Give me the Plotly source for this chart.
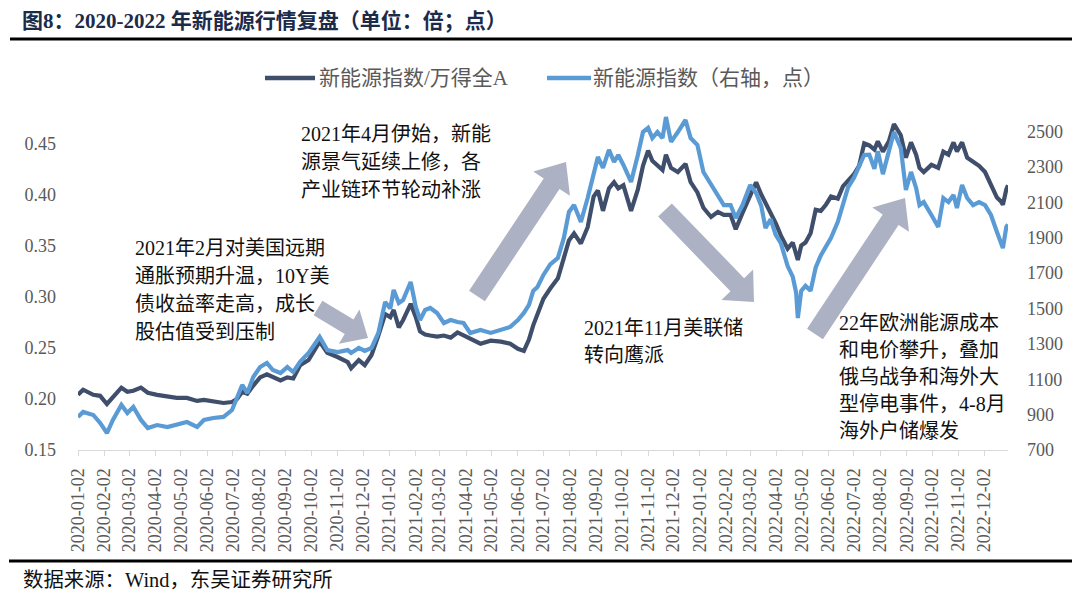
import math
import plotly.graph_objects as go

# ---------------- data ----------------
dates = [
    "2020-01-02", "2020-01-08", "2020-01-20", "2020-01-28", "2020-02-05", "2020-02-12", "2020-02-22", "2020-02-29",
    "2020-03-07", "2020-03-16", "2020-03-24", "2020-04-04", "2020-04-16", "2020-04-27", "2020-05-09", "2020-05-21",
    "2020-05-29", "2020-06-09", "2020-06-21", "2020-07-01", "2020-07-07", "2020-07-13", "2020-07-19", "2020-07-26",
    "2020-08-03", "2020-08-11", "2020-08-18", "2020-08-27", "2020-09-04", "2020-09-11", "2020-09-19", "2020-09-29",
    "2020-10-12", "2020-10-21", "2020-11-02", "2020-11-14", "2020-11-18", "2020-11-27", "2020-12-04", "2020-12-12",
    "2020-12-20", "2020-12-28", "2021-01-03", "2021-01-07", "2021-01-13", "2021-01-18", "2021-01-27", "2021-02-02",
    "2021-02-07", "2021-02-13", "2021-02-19", "2021-02-27", "2021-03-07", "2021-03-15", "2021-03-23", "2021-03-30",
    "2021-04-07", "2021-04-19", "2021-05-01", "2021-05-13", "2021-05-24", "2021-06-02", "2021-06-09", "2021-06-15",
    "2021-06-20", "2021-06-25", "2021-07-02", "2021-07-10", "2021-07-19", "2021-07-26", "2021-08-01", "2021-08-07",
    "2021-08-15", "2021-08-23", "2021-08-30", "2021-09-04", "2021-09-10", "2021-09-17", "2021-09-23", "2021-09-28",
    "2021-10-04", "2021-10-13", "2021-10-21", "2021-10-27", "2021-11-02", "2021-11-07", "2021-11-13", "2021-11-19",
    "2021-11-23", "2021-11-29", "2021-12-07", "2021-12-16", "2021-12-22", "2021-12-30", "2022-01-06", "2022-01-15",
    "2022-01-23", "2022-01-30", "2022-02-07", "2022-02-13", "2022-02-21", "2022-03-02", "2022-03-09", "2022-03-15",
    "2022-03-20", "2022-03-26", "2022-04-01", "2022-04-07", "2022-04-15", "2022-04-21", "2022-04-25", "2022-04-27",
    "2022-05-01", "2022-05-06", "2022-05-12", "2022-05-18", "2022-05-24", "2022-05-30", "2022-06-05", "2022-06-13",
    "2022-06-19", "2022-06-25", "2022-07-02", "2022-07-08", "2022-07-14", "2022-07-20", "2022-07-26", "2022-07-30",
    "2022-08-05", "2022-08-12", "2022-08-18", "2022-08-26", "2022-09-01", "2022-09-07", "2022-09-13", "2022-09-17",
    "2022-09-22", "2022-10-01", "2022-10-09", "2022-10-15", "2022-10-21", "2022-10-27", "2022-10-31", "2022-11-06",
    "2022-11-12", "2022-11-19", "2022-11-26", "2022-12-03", "2022-12-10", "2022-12-17", "2022-12-22", "2022-12-24",
    "2022-12-28", "2022-12-30",
]

# 新能源指数/万得全A (left axis, 倍)
ratio_vs_wind_a = [
    0.204, 0.209, 0.204, 0.203, 0.195, 0.202, 0.211, 0.207,
    0.208, 0.211, 0.206, 0.204, 0.202, 0.201, 0.201, 0.198,
    0.199, 0.198, 0.196, 0.197, 0.200, 0.207, 0.205, 0.213,
    0.221, 0.224, 0.221, 0.218, 0.221, 0.220, 0.233, 0.238,
    0.256, 0.245, 0.241, 0.236, 0.230, 0.238, 0.233, 0.243,
    0.262, 0.283, 0.280, 0.287, 0.270, 0.277, 0.293, 0.280,
    0.266, 0.263, 0.262, 0.261, 0.262, 0.260, 0.265, 0.262,
    0.258, 0.254, 0.257, 0.256, 0.254, 0.249, 0.247, 0.258,
    0.272, 0.283, 0.298, 0.308, 0.318, 0.338, 0.355, 0.362,
    0.352, 0.368, 0.398, 0.404, 0.384, 0.406, 0.412, 0.406,
    0.409, 0.384, 0.405, 0.428, 0.443, 0.433, 0.428, 0.424,
    0.439, 0.426, 0.422, 0.430, 0.412, 0.402, 0.387, 0.378,
    0.383, 0.380, 0.380, 0.366, 0.382, 0.399, 0.412, 0.400,
    0.392, 0.383, 0.372, 0.360, 0.347, 0.353, 0.340, 0.336,
    0.350, 0.353, 0.362, 0.385, 0.384, 0.390, 0.398, 0.396,
    0.408, 0.414, 0.420, 0.428, 0.450, 0.448, 0.444, 0.452,
    0.442, 0.452, 0.469, 0.458, 0.436, 0.451, 0.439, 0.426,
    0.422, 0.429, 0.426, 0.442, 0.439, 0.451, 0.442, 0.451,
    0.436, 0.432, 0.428, 0.422, 0.409, 0.397, 0.393, 0.390,
    0.405, 0.409,
]

# 新能源指数 (right axis, 点)
new_energy_index = [
    887, 915, 898, 853, 796, 870, 955, 909,
    943, 870, 824, 841, 830, 841, 858, 830,
    870, 881, 887, 926, 1000, 1068, 1022, 1113,
    1169, 1192, 1152, 1135, 1169, 1141, 1198, 1249,
    1339, 1265, 1254, 1265, 1249, 1277, 1260, 1277,
    1362, 1537, 1500, 1605, 1531, 1548, 1650, 1509,
    1435, 1492, 1503, 1475, 1418, 1435, 1424, 1418,
    1362, 1379, 1362, 1379, 1396, 1435, 1475, 1520,
    1600, 1622, 1690, 1750, 1786, 1899, 2046, 2085,
    1989, 2125, 2272, 2357, 2295, 2397, 2329, 2368,
    2312, 2216, 2368, 2498, 2521, 2464, 2498, 2464,
    2583, 2442, 2498, 2566, 2464, 2425, 2272, 2199,
    2142, 2085, 2085, 2012, 2085, 2199, 2153, 2080,
    1955, 2005, 1916, 1870, 1740, 1680, 1590, 1446,
    1600, 1628, 1600, 1732, 1800, 1850, 1900, 1990,
    2080, 2185, 2240, 2305, 2368, 2370, 2290, 2390,
    2260, 2390, 2498, 2408, 2170, 2272, 2182, 2085,
    2102, 2029, 1961, 2125, 2102, 2142, 2068, 2199,
    2125, 2085, 2102, 2085, 2029, 1933, 1859, 1842,
    1961, 1975,
]

left_ticks = [0.15, 0.20, 0.25, 0.30, 0.35, 0.40, 0.45]
left_tick_labels = ["0.15", "0.20", "0.25", "0.30", "0.35", "0.40", "0.45"]
right_ticks = [700, 900, 1100, 1300, 1500, 1700, 1900, 2100, 2300, 2500]
month_ticks = [
    "2020-01-02", "2020-02-02", "2020-03-02", "2020-04-02", "2020-05-02", "2020-06-02",
    "2020-07-02", "2020-08-02", "2020-09-02", "2020-10-02", "2020-11-02", "2020-12-02",
    "2021-01-02", "2021-02-02", "2021-03-02", "2021-04-02", "2021-05-02", "2021-06-02",
    "2021-07-02", "2021-08-02", "2021-09-02", "2021-10-02", "2021-11-02", "2021-12-02",
    "2022-01-02", "2022-02-02", "2022-03-02", "2022-04-02", "2022-05-02", "2022-06-02",
    "2022-07-02", "2022-08-02", "2022-09-02", "2022-10-02", "2022-11-02", "2022-12-02",
]

series_names = ["新能源指数/万得全A", "新能源指数（右轴，点）"]
title_text = "图8：2020-2022 年新能源行情复盘（单位：倍；点）"
source_text = "数据来源：Wind，东吴证券研究所"
notes = [
    ["2021年4月伊始，新能", "源景气延续上修，各", "产业链环节轮动补涨"],
    ["2021年2月对美国远期", "通胀预期升温，10Y美", "债收益率走高，成长", "股估值受到压制"],
    ["2021年11月美联储", "转向鹰派"],
    ["22年欧洲能源成本", "和电价攀升，叠加", "俄乌战争和海外大", "型停电事件，4-8月", "海外户储爆发"],
]

# ---------------- styling / layout ----------------
OFF = 8                     # the page body keeps an 8px margin around the figure
W, H = 1080 - OFF, 599 - OFF
PL, PR, PT, PB = 78, 1008, 105, 450   # plot area in window pixels
DARK = "#3f4e6a"
BLUE = "#5b9bd5"
ARROW = "#acb2c3"
GRAY = "#595959"
SERIF = "Liberation Serif, Noto Sans CJK SC, serif"


def px(x):
    return (x - PL) / (PR - PL)


def py(y):
    return (PB - y) / (PB - PT)


def arrow_path(x0, y0, x1, y1, w, hw, hl):
    dx, dy = x1 - x0, y1 - y0
    n = math.hypot(dx, dy)
    ux, uy = dx / n, dy / n
    nx, ny = -uy, ux
    bx, by = x1 - ux * hl, y1 - uy * hl
    pts = [
        (x0 + nx * w / 2, y0 + ny * w / 2),
        (bx + nx * w / 2, by + ny * w / 2),
        (bx + nx * hw / 2, by + ny * hw / 2),
        (x1, y1),
        (bx - nx * hw / 2, by - ny * hw / 2),
        (bx - nx * w / 2, by - ny * w / 2),
        (x0 - nx * w / 2, y0 - ny * w / 2),
    ]
    return "M " + " L ".join(f"{px(a):.5f},{py(b):.5f}" for a, b in pts) + " Z"


fig = go.Figure()
fig.add_trace(go.Scatter(x=dates, y=ratio_vs_wind_a, name=series_names[0], mode="lines",
                         line=dict(color=DARK, width=4.2), yaxis="y"))
fig.add_trace(go.Scatter(x=dates, y=new_energy_index, name=series_names[1], mode="lines",
                         line=dict(color=BLUE, width=4.2), yaxis="y2"))

left_top = 0.15 + 0.05 * (PB - PT) / 51.1
right_top = 700 + 200 * (PB - PT) / 35.37

shapes = []
# title rule and source rule
shapes.append(dict(type="line", xref="paper", yref="paper", x0=px(10), x1=px(1075), y0=py(39), y1=py(39),
                   line=dict(color="black", width=3)))
shapes.append(dict(type="line", xref="paper", yref="paper", x0=px(9), x1=px(1077), y0=py(561), y1=py(561),
                   line=dict(color="black", width=3)))
# legend samples
shapes.append(dict(type="line", xref="paper", yref="paper", x0=px(265), x1=px(315), y0=py(78), y1=py(78),
                   line=dict(color=DARK, width=4.5)))
shapes.append(dict(type="line", xref="paper", yref="paper", x0=px(547), x1=px(591), y0=py(78), y1=py(78),
                   line=dict(color=BLUE, width=4.5)))
# block arrows
for (x0, y0, x1, y1, w, hw, hl) in [
    (318, 308, 368, 338, 17, 40, 22),
    (477, 296, 566, 162, 19, 44, 26),
    (665, 210, 754, 302, 19, 44, 24),
    (815, 334, 905, 198, 19, 44, 26),
]:
    shapes.append(dict(type="path", xref="paper", yref="paper", path=arrow_path(x0, y0, x1, y1, w, hw, hl),
                       fillcolor=ARROW, line=dict(width=0), layer="above"))

annotations = []
annotations.append(dict(text=f"<b>{title_text}</b>", xref="paper", yref="paper", x=px(21), y=py(OFF),
                        xanchor="left", yanchor="top", showarrow=False, borderpad=0,
                        font=dict(family=SERIF, size=21, color="#1c2b4a")))
annotations.append(dict(text=source_text, xref="paper", yref="paper", x=px(21), y=py(580),
                        xanchor="left", yanchor="middle", showarrow=False,
                        font=dict(family=SERIF, size=20.4, color="#111111")))
annotations.append(dict(text=series_names[0], xref="paper", yref="paper", x=px(317), y=py(78),
                        xanchor="left", yanchor="middle", showarrow=False,
                        font=dict(family=SERIF, size=21, color=GRAY)))
annotations.append(dict(text=series_names[1], xref="paper", yref="paper", x=px(591), y=py(78),
                        xanchor="left", yanchor="middle", showarrow=False,
                        font=dict(family=SERIF, size=21, color=GRAY)))

note_pos = [(299, 134, 28), (133, 248, 28), (582, 328, 27), (837, 323, 27)]
for lines, (lx, ly, step) in zip(notes, note_pos):
    for i, t in enumerate(lines):
        annotations.append(dict(text=t, xref="paper", yref="paper", x=px(lx), y=py(ly + i * step),
                                xanchor="left", yanchor="middle", showarrow=False,
                                font=dict(family=SERIF, size=20, color="#111111")))

fig.update_layout(
    width=W, height=H,
    margin=dict(l=PL - OFF, r=W - (PR - OFF), t=PT - OFF, b=H - (PB - OFF), pad=0),
    paper_bgcolor="white", plot_bgcolor="white",
    showlegend=False,
    xaxis=dict(type="date", range=["2020-01-02", "2022-12-30"], tickvals=month_ticks,
               ticktext=month_ticks, tickangle=-90, ticks="outside", ticklen=5,
               tickcolor="#d9d9d9", showline=True, linecolor="#d9d9d9", linewidth=1,
               showgrid=False, zeroline=False, ticklabelstandoff=5,
               tickfont=dict(family=SERIF, size=18, color=GRAY)),
    yaxis=dict(range=[0.15, left_top], tickvals=left_ticks, ticktext=left_tick_labels,
               showgrid=False, zeroline=False, showline=False, ticks="",
               ticklabelstandoff=21,
               tickfont=dict(family=SERIF, size=18, color=GRAY)),
    yaxis2=dict(range=[700, right_top], tickvals=right_ticks, overlaying="y", side="right",
                showgrid=False, zeroline=False, showline=False, ticks="",
                ticklabelstandoff=18,
                tickfont=dict(family=SERIF, size=18, color=GRAY)),
    shapes=shapes,
    annotations=annotations,
)

fig.write_html("out.html")
